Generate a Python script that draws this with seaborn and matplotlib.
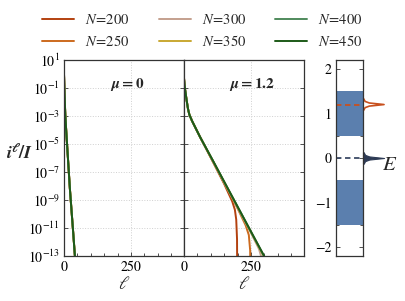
import numpy as np
import pandas as pd
import matplotlib
matplotlib.use("Agg")
import matplotlib.pyplot as plt
import seaborn as sns
from matplotlib.ticker import MultipleLocator, FixedLocator

sns.set_theme(style="ticks")
plt.rcParams["font.family"] = ["STIXGeneral", "DejaVu Serif"]
plt.rcParams["mathtext.fontset"] = "stix"

# ---------------- data (log10 of i^l / I) ----------------
N_values = [200, 250, 300, 350, 400, 450]
colors = ["#b3410f", "#cc6a1e", "#c4a08e", "#c9a832", "#4f8a5c", "#1d5a18"]

# mu = 0 : all N overlap
ell_mu0 = [0, 2, 5, 10, 22, 35, 43]
log_mu0 = [0.0, -1.5, -3.0, -4.6, -8.2, -11.5, -13.6]

# mu = 1.2
ell_200 = [0, 2, 4, 7, 10, 15, 20, 30, 60, 110, 150, 180, 190, 195, 198, 199]
log_200 = [-0.3, -0.8, -1.1, -1.5, -1.9, -2.5, -2.9, -3.35, -4.5, -6.35, -7.85, -9.1, -9.7, -10.4, -11.8, -16]
ell_250 = [0, 2, 4, 7, 10, 15, 20, 30, 60, 110, 150, 200, 230, 242, 247, 249]
log_250 = [-0.3, -0.8, -1.1, -1.5, -1.9, -2.5, -2.9, -3.35, -4.5, -6.32, -7.78, -9.6, -10.8, -11.5, -12.6, -16]
ell_300 = [0, 2, 4, 7, 10, 15, 20, 30, 60, 110, 150, 200, 250, 280, 292, 299]
log_300 = [-0.3, -0.8, -1.1, -1.5, -1.9, -2.5, -2.9, -3.35, -4.5, -6.3, -7.75, -9.55, -11.35, -12.5, -13.3, -16]
ell_350 = [0, 2, 4, 7, 10, 15, 20, 30, 60, 110, 150, 200, 250, 300]
log_350 = [-0.3, -0.8, -1.1, -1.5, -1.9, -2.5, -2.9, -3.35, -4.5, -6.28, -7.72, -9.5, -11.3, -13.1]
ell_400 = [0, 2, 4, 7, 10, 15, 20, 30, 60, 110, 150, 200, 250, 300]
log_400 = [-0.3, -0.8, -1.1, -1.5, -1.9, -2.5, -2.9, -3.35, -4.5, -6.27, -7.7, -9.48, -11.27, -13.05]
ell_450 = [0, 2, 4, 7, 10, 15, 20, 30, 60, 110, 150, 200, 250, 300]
log_450 = [-0.3, -0.8, -1.1, -1.5, -1.9, -2.5, -2.9, -3.35, -4.5, -6.26, -7.69, -9.47, -11.25, -13.03]

ell_mu12 = [ell_200, ell_250, ell_300, ell_350, ell_400, ell_450]
log_mu12 = [log_200, log_250, log_300, log_350, log_400, log_450]

# band panel
band_lower = [-1.5, -0.5]
band_upper = [0.5, 1.5]
mu_level = 1.2
E_level = 0.0
peak_dE = [-0.13, -0.07, -0.035, 0.0, 0.035, 0.07, 0.13]
peak_h = [0.03, 0.1, 0.3, 1.0, 0.3, 0.1, 0.03]

ytick_exps = [1, -1, -3, -5, -7, -9, -11, -13]

# ---------------- figure ----------------
fig = plt.figure(figsize=(4.05, 3.01), dpi=100)
ax1 = fig.add_axes([64/405, 45/301, 120/405, 196/301])
ax2 = fig.add_axes([184/405, 45/301, 120/405, 196/301], sharey=ax1)
ax3 = fig.add_axes([336/405, 45/301, 27/405, 196/301])

for i, N in enumerate(N_values):
    d0 = pd.DataFrame({"ell": ell_mu0, "v": np.power(10.0, log_mu0)})
    sns.lineplot(data=d0, x="ell", y="v", ax=ax1, color=colors[i], lw=1.4,
                 label=f"$N\\!=\\!{N}$", legend=False, sort=False)
    d1 = pd.DataFrame({"ell": ell_mu12[i], "v": np.power(10.0, log_mu12[i])})
    sns.lineplot(data=d1, x="ell", y="v", ax=ax2, color=colors[i], lw=1.4,
                 legend=False, sort=False)

for ax, lab, lx in [(ax1, r"$\mathbfit{\mu}\mathbf{=0}$", 0.525),
                    (ax2, r"$\mathbfit{\mu}\mathbf{=1.2}$", 0.57)]:
    ax.set_yscale("log")
    ax.set_xlim(0, 448)
    ax.set_ylim(1e-13, 1e1)
    ax.set_xticks([0, 250])
    ax.xaxis.set_minor_locator(MultipleLocator(50))
    ax.set_yticks([10.0**e for e in ytick_exps])
    ax.yaxis.set_minor_locator(FixedLocator([]))
    ax.grid(True, which="major", color="#d0d0d0", ls=":", lw=0.7)
    ax.tick_params(which="both", direction="in", top=False, right=True, labelsize=10, length=3,
                   width=0.6, colors="#333333", labelcolor="black", pad=3)
    ax.tick_params(which="minor", length=2)
    ax.set_xlabel(r"$\ell$", fontsize=13, labelpad=2)
    ax.set_ylabel("")
    ax.text(lx, 0.875, lab, transform=ax.transAxes, ha="center", va="center", fontsize=11)
    for s in ax.spines.values():
        s.set_color("#333333")
        s.set_linewidth(0.9)
ax2.tick_params(labelleft=False)
fig.text(19/405, (301-153)/301, r"$\mathbfit{i}^{\mathbfit{\ell}}\mathbf{/}\mathbfit{I}$",
         fontsize=13, ha="center", va="center")

# band panel
ax3.set_xlim(0, 1)
ax3.set_ylim(-2.2, 2.2)
ax3.axhspan(band_lower[0], band_lower[1], color="#5b7fae", lw=0)
ax3.axhspan(band_upper[0], band_upper[1], color="#5b7fae", lw=0)
ax3.axhline(mu_level, color="#c8501e", ls=(0, (3, 2)), lw=1.3)
ax3.axhline(E_level, color="#3b4a66", ls=(0, (3, 2)), lw=1.3)
ax3.set_xticks([])
ax3.set_yticks([2, 1, 0, -1, -2])
ax3.yaxis.set_minor_locator(MultipleLocator(0.5))
ax3.tick_params(which="both", direction="in", left=True, right=True, labelsize=10, length=3,
                width=0.6, colors="#333333", labelcolor="black")
ax3.tick_params(which="minor", length=2)
for s in ax3.spines.values():
    s.set_color("#333333")
    s.set_linewidth(0.9)

trans = ax3.get_yaxis_transform()
pk_y_mu = [mu_level + d for d in peak_dE]
pk_x = [1 + 0.78 * h for h in peak_h]
ax3.plot(pk_x, pk_y_mu, color="#c8501e", lw=1.2, transform=trans, clip_on=False)
pk_y_E = [E_level + d for d in peak_dE]
ax3.fill_betweenx(pk_y_E, [1.0]*len(pk_x), pk_x, color="#2e3b55", lw=0.8, transform=trans,
                  clip_on=False)
ax3.text(2.0, -0.15, r"$E$", transform=trans, fontsize=15, va="center", ha="center")

handles, labels = ax1.get_legend_handles_labels()
fig.legend(handles, labels, loc="upper center", bbox_to_anchor=(0.5, 1.0), ncol=3,
           frameon=False, fontsize=10.5, handlelength=2.2, handletextpad=0.75,
           columnspacing=2.0, labelspacing=0.5)

fig.savefig("out.png", dpi=100)
